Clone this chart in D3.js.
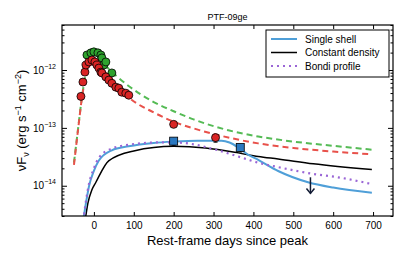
<!DOCTYPE html>
<html lang="en">
<head>
<meta charset="UTF-8">
<title>PTF-09ge</title>
<script src="https://d3js.org/d3.v7.min.js"></script>
<style>
  body { margin: 0; background: #fff; font-family: "Liberation Sans", Arial, sans-serif; }
  .axis path, .axis line { stroke: #000; }
  .axis text { font-size: 10px; fill: #000; font-family: "Liberation Sans", Arial, sans-serif; }
</style>
</head>
<body>
<div id="chart"></div>
<script>
// photometry (rest-frame days, erg/s/cm2)
const redDays = [-32.5, -27.5, -22.5, -20, -12.5, -5, 2.5, 7.5, 12.5, 17.5, 20, 30, 37.5, 45, 55, 62.5, 70, 80, 87.5, 200, 305];
const redFlux = [3.5e-13, 6.2e-13, 9.2e-13, 1.22e-12, 1.38e-12, 1.49e-12, 1.38e-12, 1.22e-12, 1.08e-12, 9.2e-13, 8.9e-13, 7.6e-13, 6.7e-13, 5.9e-13, 5.06e-13, 4.86e-13, 4.14e-13, 3.98e-13, 3.67e-13, 1.15e-13, 6.8e-14];
const greenDays = [-17.5, -7.5, 0, 10, 17.5, 20, 25, 30, 45];
const greenFlux = [1.82e-12, 1.98e-12, 2.06e-12, 1.98e-12, 1.82e-12, 1.62e-12, 1.22e-12, 1.38e-12, 8.9e-13];
const blueDays = [200, 367];
const blueFlux = [5.9e-14, 4.6e-14];
const limitDay = 543, limitFlux = 1.4e-14;

// dashed templates
const greenTplDays = [-50, -40, -30, -20, -10, -5, 0, 20, 40, 60, 87, 150, 200, 250, 337, 412, 500, 600, 697];
const greenTplFlux = [2.5e-14, 9.3e-14, 3.4e-13, 9e-13, 1.7e-12, 2.0e-12, 1.9e-12, 1.4e-12, 1.0e-12, 7.5e-13, 5.3e-13, 2.8e-13, 1.94e-13, 1.4e-13, 9.1e-14, 7.1e-14, 5.8e-14, 4.9e-14, 4.2e-14];
const redTplDays = [-50, -40, -30, -20, -10, 0, 20, 40, 60, 87, 150, 200, 250, 305, 412, 500, 600, 697];
const redTplFlux = [2.3e-14, 9e-14, 3.3e-13, 8e-13, 1.2e-12, 1.4e-12, 1.05e-12, 7.5e-13, 5.3e-13, 3.4e-13, 1.85e-13, 1.28e-13, 9.8e-14, 7.7e-14, 5.4e-14, 4.5e-14, 3.9e-14, 3.5e-14];

// models
const shellDays = [-27, -20, -12, 0, 12, 45, 87, 150, 200, 260, 320, 340, 362, 385, 412, 462, 537, 600, 697];
const shellFlux = [2.5e-15, 5e-15, 1e-14, 1.8e-14, 2.7e-14, 4.1e-14, 4.8e-14, 5.5e-14, 5.8e-14, 6e-14, 6e-14, 5.6e-14, 4.6e-14, 3.5e-14, 2.8e-14, 1.8e-14, 1.15e-14, 9.3e-15, 7.6e-15];
const constDays = [-22, -15, -5, 5, 37, 100, 200, 280, 362, 412, 462, 550, 697];
const constFlux = [2.5e-15, 5e-15, 8.5e-15, 1.15e-14, 2.7e-14, 4.0e-14, 4.8e-14, 4.5e-14, 3.7e-14, 3.2e-14, 2.9e-14, 2.4e-14, 1.9e-14];
const bondiDays = [-27, -12, 0, 12, 45, 87, 160, 200, 250, 295, 362, 412, 462, 550, 612, 697];
const bondiFlux = [2.5e-15, 1.1e-14, 2e-14, 3e-14, 4.4e-14, 5.1e-14, 5.6e-14, 5.6e-14, 5.2e-14, 4.4e-14, 3.2e-14, 2.5e-14, 2.1e-14, 1.6e-14, 1.4e-14, 1.07e-14];

const xTicks = [0, 100, 200, 300, 400, 500, 600, 700];
const yDecades = [1e-14, 1e-13, 1e-12];

const svg = d3.select("#chart").append("svg").attr("width", 415).attr("height", 257),
      margin = {top: 25, right: 22, bottom: 41, left: 62},
      width = 415 - margin.left - margin.right,
      height = 257 - margin.top - margin.bottom,
      g = svg.append("g").attr("transform", `translate(${margin.left},${margin.top})`);

const x = d3.scaleLinear().domain([-80, 750]).range([0, width]);
const y = d3.scaleLog().domain([3e-15, 6e-12]).range([height, 0]);

const minors = [];
[1e-15, 1e-14, 1e-13, 1e-12].forEach(d => { for (let k = 2; k <= 9; k++) { const v = d * k; if (v >= 3e-15 && v <= 6e-12) minors.push(v); } });

svg.append("defs").append("clipPath").attr("id", "clip")
  .append("rect").attr("width", width).attr("height", height);

const plot = g.append("g").attr("clip-path", "url(#clip)");
const zip = (a, b) => a.map((d, i) => [d, b[i]]);
const line = d3.line().x(d => x(d[0])).y(d => y(d[1])).curve(d3.curveMonotoneX);

plot.append("path").datum(zip(greenTplDays, greenTplFlux)).attr("d", line)
  .attr("fill", "none").attr("stroke", "#55bb55").attr("stroke-width", 2).attr("stroke-dasharray", "6,4");
plot.append("path").datum(zip(redTplDays, redTplFlux)).attr("d", line)
  .attr("fill", "none").attr("stroke", "#e8514a").attr("stroke-width", 2).attr("stroke-dasharray", "6,4");
plot.append("path").datum(zip(constDays, constFlux)).attr("d", line)
  .attr("fill", "none").attr("stroke", "#000").attr("stroke-width", 1.5);
plot.append("path").datum(zip(shellDays, shellFlux)).attr("d", line)
  .attr("fill", "none").attr("stroke", "#4f9fd8").attr("stroke-width", 2);
plot.append("path").datum(zip(bondiDays, bondiFlux)).attr("d", line)
  .attr("fill", "none").attr("stroke", "#9a66d6").attr("stroke-width", 2.2).attr("stroke-dasharray", "2,4");

// error bars
const errs = [[305, 6.8e-14], [200, 5.9e-14], [367, 4.6e-14]];
errs.forEach(([d, v]) => {
  plot.append("line").attr("x1", x(d)).attr("x2", x(d)).attr("y1", y(v * 1.15)).attr("y2", y(v / 1.2)).attr("stroke", "#000").attr("stroke-width", 1.2);
  plot.append("line").attr("x1", x(d) - 2).attr("x2", x(d) + 2).attr("y1", y(v / 1.2)).attr("y2", y(v / 1.2)).attr("stroke", "#000");
});

plot.selectAll(".green").data(zip(greenDays, greenFlux)).enter().append("circle")
  .attr("cx", d => x(d[0])).attr("cy", d => y(d[1])).attr("r", 4)
  .attr("fill", "#2ea32e").attr("stroke", "#000").attr("stroke-width", 0.8);
plot.selectAll(".red").data(zip(redDays, redFlux)).enter().append("circle")
  .attr("cx", d => x(d[0])).attr("cy", d => y(d[1])).attr("r", 4)
  .attr("fill", "#d92525").attr("stroke", "#000").attr("stroke-width", 0.8);
plot.selectAll(".blue").data(zip(blueDays, blueFlux)).enter().append("rect")
  .attr("x", d => x(d[0]) - 4).attr("y", d => y(d[1]) - 4).attr("width", 8).attr("height", 8)
  .attr("fill", "#2a78c0").attr("stroke", "#000").attr("stroke-width", 0.8);

// upper limit
const ly0 = y(limitFlux), ly1 = y(limitFlux / 1.9);
plot.append("line").attr("x1", x(limitDay)).attr("x2", x(limitDay)).attr("y1", ly0).attr("y2", ly1)
  .attr("stroke", "#111a33").attr("stroke-width", 1.5);
plot.append("path").attr("d", `M${x(limitDay) - 4},${ly1 - 5}L${x(limitDay)},${ly1}L${x(limitDay) + 4},${ly1 - 5}`)
  .attr("fill", "none").attr("stroke", "#111a33").attr("stroke-width", 1.5);

// axes
const fmt = d => "";
g.append("g").attr("class", "axis").attr("transform", `translate(0,${height})`)
  .call(d3.axisBottom(x).tickValues(xTicks).tickSize(-4).tickPadding(6).tickFormat(d3.format("d")))
  .call(a => a.select(".domain").remove());
g.append("g").attr("class", "axis")
  .call(d3.axisTop(x).tickValues(xTicks).tickSize(-4).tickFormat(fmt))
  .call(a => a.select(".domain").remove());

const yl = g.append("g").attr("class", "axis")
  .call(d3.axisLeft(y).tickValues(yDecades).tickSize(-5).tickPadding(6).tickFormat(fmt))
  .call(a => a.select(".domain").remove());
yl.selectAll(".tick text").each(function(d) {
  const t = d3.select(this);
  t.append("tspan").text("10");
  t.append("tspan").attr("dy", -5).attr("font-size", 7).text("\u2212" + Math.round(-Math.log10(d)));
});
g.append("g").attr("class", "axis")
  .call(d3.axisLeft(y).tickValues(minors).tickSize(-2.5).tickFormat(fmt))
  .call(a => a.select(".domain").remove());
g.append("g").attr("class", "axis").attr("transform", `translate(${width},0)`)
  .call(d3.axisRight(y).tickValues(yDecades).tickSize(-5).tickFormat(fmt))
  .call(a => a.select(".domain").remove());
g.append("g").attr("class", "axis").attr("transform", `translate(${width},0)`)
  .call(d3.axisRight(y).tickValues(minors).tickSize(-2.5).tickFormat(fmt))
  .call(a => a.select(".domain").remove());

g.append("rect").attr("width", width).attr("height", height).attr("fill", "none").attr("stroke", "#000").attr("stroke-width", 1.2);

// title and labels
svg.append("text").attr("x", margin.left + width / 2).attr("y", 20).attr("text-anchor", "middle")
  .attr("font-size", 9).text("PTF-09ge");
svg.append("text").attr("x", margin.left + width / 2).attr("y", 245).attr("text-anchor", "middle")
  .attr("font-size", 13).text("Rest-frame days since peak");
const yt = svg.append("text").attr("transform", `translate(26,${margin.top + height / 2}) rotate(-90)`)
  .attr("text-anchor", "middle").attr("font-size", 13);
yt.append("tspan").text("\u03bdF");
yt.append("tspan").attr("dy", 3).attr("font-size", 9).text("\u03bd");
yt.append("tspan").attr("dy", -3).text(" (erg s");
yt.append("tspan").attr("dy", -5).attr("font-size", 9).text("\u22121");
yt.append("tspan").attr("dy", 5).text(" cm");
yt.append("tspan").attr("dy", -5).attr("font-size", 9).text("\u22122");
yt.append("tspan").attr("dy", 5).text(")");

// legend
const legend = g.append("g").attr("transform", `translate(${width - 127},5)`);
legend.append("rect").attr("width", 123).attr("height", 47).attr("fill", "#fff").attr("stroke", "#000").attr("stroke-width", 1);
const legItems = [
  {label: "Single shell", color: "#4f9fd8", dash: null, w: 2},
  {label: "Constant density", color: "#000", dash: null, w: 1.5},
  {label: "Bondi profile", color: "#9a66d6", dash: "2,4", w: 2.2}
];
legItems.forEach((it, i) => {
  const yy = 9 + i * 13.5;
  legend.append("line").attr("x1", 5).attr("x2", 31).attr("y1", yy).attr("y2", yy)
    .attr("stroke", it.color).attr("stroke-width", it.w).attr("stroke-dasharray", it.dash);
  legend.append("text").attr("x", 39).attr("y", yy + 3.5).attr("font-size", 10).text(it.label);
});
</script>
</body>
</html>
